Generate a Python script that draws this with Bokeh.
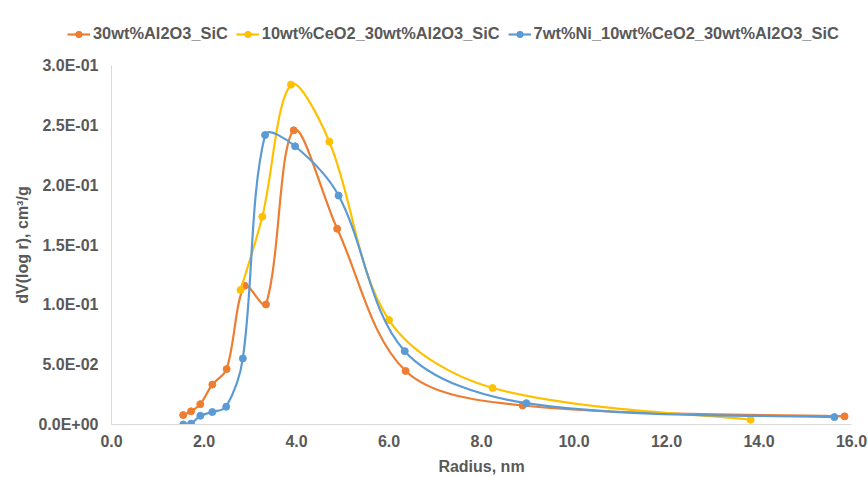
from bokeh.plotting import figure
from bokeh.layouts import column
from bokeh.models import (Range1d, FixedTicker, CustomJSTickFormatter, Legend, LegendItem,
                          ColumnDataSource)
from bokeh.embed import file_html
from bokeh.resources import INLINE
import math

# ---- data ----
series_names = ["30wt%Al2O3_SiC", "10wt%CeO2_30wt%Al2O3_SiC", "7wt%Ni_10wt%CeO2_30wt%Al2O3_SiC"]
colors = ["#ED7D31", "#FFC000", "#5B9BD5"]

r_al = [1.55, 1.72, 1.92, 2.18, 2.49, 2.88, 3.34, 3.94, 4.88, 6.36, 8.89, 15.85]
v_al = [0.0079, 0.0110, 0.0170, 0.0334, 0.0463, 0.1160, 0.1003, 0.2458, 0.1636, 0.0447, 0.0159, 0.0068]

r_ce = [2.79, 3.26, 3.88, 4.71, 6.00, 8.24, 13.82]
v_ce = [0.1124, 0.1736, 0.2840, 0.2363, 0.0873, 0.0305, 0.0040]

r_ni = [1.55, 1.72, 1.92, 2.18, 2.48, 2.84, 3.32, 3.97, 4.91, 6.34, 8.97, 15.63]
v_ni = [0.0000, 0.0007, 0.0073, 0.0104, 0.0148, 0.0552, 0.2419, 0.2325, 0.1913, 0.0613, 0.0178, 0.0062]

x_ticks = [0, 2, 4, 6, 8, 10, 12, 14, 16]
y_ticks = [0.0, 0.05, 0.1, 0.15, 0.2, 0.25, 0.3]

x_label = "Radius, nm"
y_label = "dV(log r), cm\u00b3/g"

FONT = "Liberation Sans"
TXT = "#595959"

W, H = 868, 477
LEG_H = 50                     # height of the legend strip on top
MAIN_H = H - LEG_H
BL, BR, BT, BB = 111, 17, 15, 50
X_RANGE = (0, 16)
Y_RANGE = (0, 0.3)
SX = (W - BL - BR) / (X_RANGE[1] - X_RANGE[0])        # px per x unit
SY = (MAIN_H - BT - BB) / (Y_RANGE[1] - Y_RANGE[0])   # px per y unit


def smooth_source(xs, ys):
    """Bezier control points for a smoothed line (length-weighted Catmull-Rom tangents)."""
    n = len(xs)
    def dist(i, j):
        return math.hypot((xs[j] - xs[i]) * SX, (ys[j] - ys[i]) * SY)
    outc, inc = [], []
    for i in range(n):
        ip, inx = max(i - 1, 0), min(i + 1, n - 1)
        tx, ty = xs[inx] - xs[ip], ys[inx] - ys[ip]
        dp, dn = dist(ip, i), dist(i, inx)
        if 0 < i < n - 1:
            tot = dp + dn
            fo, fi = dn / tot / 1.5, dp / tot / 1.5
        else:
            fo = fi = 1 / 3.0
        outc.append((xs[i] + tx * fo * 0.5, ys[i] + ty * fo * 0.5))
        inc.append((xs[i] - tx * fi * 0.5, ys[i] - ty * fi * 0.5))
    d = dict(x0=xs[:-1], y0=ys[:-1], x1=xs[1:], y1=ys[1:],
             cx0=[c[0] for c in outc[:-1]], cy0=[c[1] for c in outc[:-1]],
             cx1=[c[0] for c in inc[1:]], cy1=[c[1] for c in inc[1:]])
    return ColumnDataSource(d)


# ---------------- main chart ----------------
p = figure(width=W, height=MAIN_H, output_backend="svg", toolbar_location=None,
           x_range=Range1d(*X_RANGE), y_range=Range1d(*Y_RANGE),
           min_border_left=BL, min_border_right=BR, min_border_top=BT, min_border_bottom=BB)
p.outline_line_color = None
p.xgrid.visible = False
p.ygrid.visible = False
p.background_fill_color = "white"
p.border_fill_color = "white"

for col, xs, ys in zip(colors, [r_al, r_ce, r_ni], [v_al, v_ce, v_ni]):
    src = smooth_source(xs, ys)
    p.bezier(x0="x0", y0="y0", x1="x1", y1="y1", cx0="cx0", cy0="cy0", cx1="cx1", cy1="cy1",
             source=src, line_color=col, line_width=2.2)
    p.scatter(xs, ys, marker="circle", size=7, fill_color=col, line_color=col)

for ax in (p.xaxis[0], p.yaxis[0]):
    ax.axis_line_color = "#D9D9D9"
    ax.axis_line_width = 1
    ax.major_tick_line_color = None
    ax.minor_tick_line_color = None
    ax.major_tick_in = 0
    ax.major_tick_out = 0
    ax.major_label_text_font = FONT
    ax.major_label_text_font_size = "16px"
    ax.major_label_text_font_style = "bold"
    ax.major_label_text_color = TXT
    ax.axis_label_text_font = FONT
    ax.axis_label_text_font_size = "16px"
    ax.axis_label_text_font_style = "bold"
    ax.axis_label_text_color = TXT

p.xaxis[0].ticker = FixedTicker(ticks=x_ticks)
p.yaxis[0].ticker = FixedTicker(ticks=y_ticks)
p.xaxis[0].formatter = CustomJSTickFormatter(code="return tick.toFixed(1);")
p.yaxis[0].formatter = CustomJSTickFormatter(code="""
var s = tick.toExponential(1).toUpperCase();
var parts = s.split("E");
var e = parseInt(parts[1]);
var a = Math.abs(e);
return parts[0] + "E" + (e < 0 ? "-" : "+") + (a < 10 ? "0" : "") + a;
""")
p.xaxis[0].axis_label = x_label
p.yaxis[0].axis_label = y_label
p.xaxis[0].major_label_standoff = 10
p.xaxis[0].axis_label_standoff = 8
p.yaxis[0].major_label_standoff = 13
p.yaxis[0].axis_label_standoff = 4

# ---------------- legend strip ----------------
# the series are drawn here outside the visible range; only the legend shows
lg = figure(width=W, height=LEG_H, output_backend="svg", toolbar_location=None,
            x_range=Range1d(100, 101), y_range=Range1d(100, 101),
            min_border_left=0, min_border_right=0, min_border_top=0, min_border_bottom=0,
            x_axis_type=None, y_axis_type=None)
lg.outline_line_color = None
lg.grid.visible = False
lg.background_fill_color = "white"
lg.border_fill_color = "white"
for fig in (lg, p):
    try:
        fig.frame_align = False
    except AttributeError:
        pass

items = []
for name, col, xs, ys in zip(series_names, colors, [r_al, r_ce, r_ni], [v_al, v_ce, v_ni]):
    ln = lg.line(x=xs, y=ys, line_color=col, line_width=2.2)
    mk = lg.scatter(x=xs, y=ys, marker="circle", size=6, fill_color=col, line_color=col)
    items.append(LegendItem(label=name, renderers=[ln, mk]))

legend = Legend(items=items, orientation="horizontal", location=(67, 7),
                label_text_font=FONT, label_text_font_size="16.4px", label_text_font_style="bold",
                label_text_color=TXT, glyph_width=23, glyph_height=16, label_standoff=3,
                spacing=8, padding=0, margin=0, border_line_color=None,
                background_fill_alpha=0)
lg.add_layout(legend, "center")

layout = column(lg, p, spacing=0)
open("out.html", "w").write(file_html(layout, INLINE))
